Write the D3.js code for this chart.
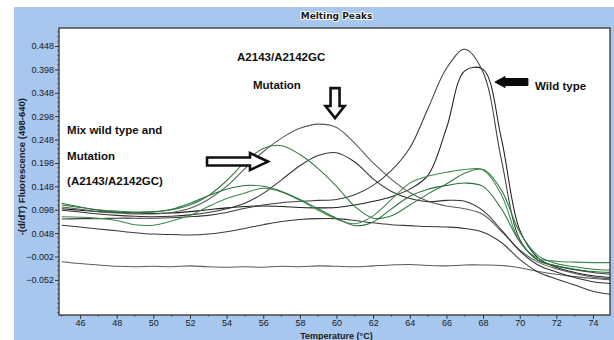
<!DOCTYPE html>
<html>
<head>
<meta charset="utf-8">
<script src="https://cdn.jsdelivr.net/npm/d3@7"></script>
<style>
  html, body { margin: 0; padding: 0; background: #ffffff; }
  svg { display: block; }
</style>
</head>
<body>
<svg id="chart" width="614" height="340"></svg>
<script>
// ---------- DATA ----------
const chartTitle = "Melting Peaks";
const xTitle = "Temperature (°C)";
const yTitle = "-(d/dT) Fluorescence (498-640)";

const temps = [45,46,47,48,49,50,51,52,53,54,55,56,57,58,59,60,61,62,63,64,65,66,67,68,69,70,71,72,73,74,75];

const wildTypeA = [0.078,0.079,0.079,0.080,0.080,0.080,0.081,0.083,0.086,0.092,0.101,0.108,0.113,0.116,0.118,0.120,0.130,0.150,0.182,0.230,0.315,0.400,0.441,0.392,0.205,0.035,-0.010,-0.022,-0.030,-0.036,-0.040];
const wildTypeB = [0.100,0.097,0.094,0.092,0.091,0.090,0.091,0.094,0.098,0.102,0.105,0.106,0.105,0.103,0.102,0.103,0.108,0.116,0.126,0.142,0.172,0.272,0.395,0.398,0.250,0.055,-0.005,-0.025,-0.036,-0.043,-0.047];
const mutationA = [0.104,0.099,0.094,0.091,0.089,0.089,0.092,0.101,0.120,0.148,0.186,0.222,0.251,0.272,0.281,0.274,0.240,0.198,0.163,0.135,0.116,0.106,0.100,0.088,0.052,0.012,-0.014,-0.028,-0.038,-0.046,-0.050];
const mutationB = [0.097,0.093,0.089,0.086,0.084,0.083,0.084,0.087,0.092,0.100,0.112,0.133,0.162,0.192,0.214,0.220,0.200,0.164,0.137,0.122,0.115,0.118,0.116,0.096,0.055,0.010,-0.020,-0.035,-0.047,-0.056,-0.060];
const mixA = [0.108,0.103,0.098,0.095,0.093,0.094,0.098,0.108,0.128,0.160,0.200,0.229,0.235,0.216,0.186,0.148,0.105,0.080,0.085,0.108,0.132,0.153,0.176,0.184,0.140,0.050,0.000,-0.017,-0.024,-0.029,-0.031];
const mixB = [0.112,0.104,0.097,0.093,0.092,0.093,0.099,0.112,0.128,0.142,0.150,0.148,0.137,0.120,0.100,0.080,0.064,0.072,0.100,0.127,0.142,0.150,0.155,0.148,0.100,0.030,-0.010,-0.022,-0.029,-0.034,-0.036];
const mixC = [0.083,0.082,0.080,0.075,0.066,0.065,0.074,0.086,0.105,0.122,0.134,0.144,0.136,0.118,0.097,0.078,0.068,0.085,0.120,0.155,0.170,0.178,0.184,0.183,0.130,0.030,-0.006,-0.012,-0.014,-0.015,-0.015];
const lowSample = [0.065,0.061,0.057,0.053,0.049,0.046,0.045,0.044,0.046,0.051,0.058,0.066,0.073,0.077,0.079,0.079,0.075,0.070,0.066,0.064,0.062,0.061,0.058,0.050,0.028,-0.008,-0.035,-0.050,-0.063,-0.076,-0.083];
const blank = [-0.013,-0.017,-0.020,-0.023,-0.024,-0.023,-0.024,-0.022,-0.024,-0.025,-0.024,-0.025,-0.023,-0.024,-0.022,-0.023,-0.024,-0.022,-0.020,-0.019,-0.021,-0.022,-0.020,-0.020,-0.021,-0.026,-0.034,-0.040,-0.045,-0.049,-0.052];

const seriesNames = ["blank","lowSample","wildTypeB","wildTypeA","mutationA","mutationB","mixC","mixB","mixA"];
const seriesValues = [blank, lowSample, wildTypeB, wildTypeA, mutationA, mutationB, mixC, mixB, mixA];
const seriesColors = ["#5c5c5c","#3a3a3a","#1e1e1e","#3c3c3c","#5a5a5a","#333333","#3d8a4a","#25703a","#2f7d3e"];

const xTicks = [46,48,50,52,54,56,58,60,62,64,66,68,70,72,74];
const yTicks = [0.448,0.398,0.348,0.298,0.248,0.198,0.148,0.098,0.048,-0.002,-0.052];

// annotations (anchored in data coordinates)
const labelTexts = [
  {t:"A2143/A2142GC", x:54.57, y:0.424},
  {t:"Mutation", x:55.44, y:0.364},
  {t:"Mix wild type and", x:45.29, y:0.268},
  {t:"Mutation", x:45.29, y:0.213},
  {t:"(A2143/A2142GC)", x:45.29, y:0.159},
  {t:"Wild type", x:70.84, y:0.362}
];

// ---------- LAYOUT ----------
const svg = d3.select("#chart");
const W = 614, H = 340;
const plot = {left: 59, top: 28, right: 610, bottom: 315};

svg.append("rect").attr("x", 14).attr("y", 7).attr("width", W - 14).attr("height", H - 7)
  .attr("fill", "#a8c7ef");

const x = d3.scaleLinear().domain([44.85, 74.93]).range([plot.left, plot.right]);
const y = d3.scaleLinear().domain([-0.127, 0.4865]).range([plot.bottom, plot.top]);

svg.append("rect").attr("x", plot.left).attr("y", plot.top)
  .attr("width", plot.right - plot.left).attr("height", plot.bottom - plot.top)
  .attr("fill", "#ffffff");

svg.append("defs").append("clipPath").attr("id", "clip")
  .append("rect").attr("x", plot.left).attr("y", plot.top)
  .attr("width", plot.right - plot.left).attr("height", plot.bottom - plot.top);

// title
svg.append("text").attr("x", (plot.left + plot.right) / 2 + 2).attr("y", 19)
  .attr("text-anchor", "middle")
  .attr("font-family", "DejaVu Sans, Verdana, sans-serif")
  .attr("font-size", 9).attr("font-weight", "bold")
  .attr("fill", "#1a1a1a").attr("stroke", "#ffffff").attr("stroke-width", 2)
  .attr("paint-order", "stroke").attr("stroke-linejoin", "round")
  .text(chartTitle);

// lines
const line = d3.line().x((d, i) => x(temps[i])).y(d => y(d)).curve(d3.curveCatmullRom.alpha(0.5));
const g = svg.append("g").attr("clip-path", "url(#clip)");
seriesValues.forEach((vals, k) => {
  g.append("path").datum(vals).attr("d", line)
    .attr("fill", "none").attr("stroke", seriesColors[k]).attr("stroke-width", 1.05)
    .attr("class", seriesNames[k]);
});

// axes
const fontTick = "Liberation Sans, Arial, sans-serif";
const yAxis = d3.axisLeft(y).tickValues(yTicks).tickFormat(d3.format(".3f")).tickSize(4).tickSizeOuter(0);
const ya = svg.append("g").attr("transform", `translate(${plot.left},0)`).call(yAxis);
ya.select(".domain").remove();
ya.selectAll("text").attr("font-family", fontTick).attr("font-size", 9).attr("fill", "#1a1a1a").attr("x", -5);
ya.selectAll("line").attr("stroke", "#333");

const xAxis = d3.axisBottom(x).tickValues(xTicks).tickFormat(d3.format("d")).tickSize(4).tickSizeOuter(0);
const xa = svg.append("g").attr("transform", `translate(0,${plot.bottom})`).call(xAxis);
xa.select(".domain").remove();
xa.selectAll("text").attr("font-family", fontTick).attr("font-size", 9).attr("fill", "#1a1a1a").attr("y", 4.5);
xa.selectAll("line").attr("stroke", "#333");

// minor ticks
const yMinor = d3.range(-0.122, 0.48, 0.01).filter(v => !yTicks.some(t => Math.abs(t - v) < 1e-6));
svg.append("g").selectAll("line").data(yMinor).join("line")
  .attr("x1", plot.left - 2).attr("x2", plot.left).attr("y1", d => y(d)).attr("y2", d => y(d))
  .attr("stroke", "#555").attr("stroke-width", 0.8);
const xMinor = [45,47,49,51,53,55,57,59,61,63,65,67,69,71,73];
svg.append("g").selectAll("line").data(xMinor).join("line")
  .attr("y1", plot.bottom).attr("y2", plot.bottom + 2).attr("x1", d => x(d)).attr("x2", d => x(d))
  .attr("stroke", "#555").attr("stroke-width", 0.8);

// frame
svg.append("rect").attr("x", plot.left).attr("y", plot.top)
  .attr("width", plot.right - plot.left).attr("height", plot.bottom - plot.top)
  .attr("fill", "none").attr("stroke", "#333").attr("stroke-width", 1.3);

// axis titles
svg.append("text").attr("x", (plot.left + plot.right) / 2 + 2).attr("y", 338.5)
  .attr("text-anchor", "middle").attr("font-family", fontTick)
  .attr("font-size", 9).attr("font-weight", "bold").attr("fill", "#1a1a1a").text(xTitle);
svg.append("text").attr("transform", `translate(25,${y(0.19)}) rotate(-90)`)
  .attr("text-anchor", "middle").attr("font-family", fontTick)
  .attr("font-size", 9.5).attr("font-weight", "bold").attr("fill", "#1a1a1a").text(yTitle);

// annotation texts
svg.append("g").selectAll("text").data(labelTexts).join("text")
  .attr("x", d => x(d.x)).attr("y", d => y(d.y)).attr("dominant-baseline", "central")
  .attr("font-family", "Liberation Sans, Arial, sans-serif").attr("font-size", 11.5)
  .attr("font-weight", "bold").attr("fill", "#111").text(d => d.t);

// arrows
// down arrow (outlined) above mutation peak
{
  const cx = x(59.92), top = y(0.358), tip = y(0.294);
  const p = d3.path();
  p.moveTo(cx - 4.5, top); p.lineTo(cx + 4.5, top); p.lineTo(cx + 4.5, tip - 12);
  p.lineTo(cx + 9.5, tip - 12); p.lineTo(cx, tip); p.lineTo(cx - 9.5, tip - 12);
  p.lineTo(cx - 4.5, tip - 12); p.closePath();
  svg.append("path").attr("d", p.toString()).attr("fill", "#fff").attr("stroke", "#111").attr("stroke-width", 2.6).attr("stroke-linejoin", "miter");
}
// right arrow (outlined) pointing to mix peak
{
  const tail = x(52.93), tip = x(56.26), cy = y(0.201);
  const p = d3.path();
  p.moveTo(tail, cy - 4); p.lineTo(tip - 18, cy - 4); p.lineTo(tip - 18, cy - 8.5);
  p.lineTo(tip, cy); p.lineTo(tip - 18, cy + 8.5); p.lineTo(tip - 18, cy + 4);
  p.lineTo(tail, cy + 4); p.closePath();
  svg.append("path").attr("d", p.toString()).attr("fill", "#fff").attr("stroke", "#111").attr("stroke-width", 2.6).attr("stroke-linejoin", "miter");
}
// left arrow (filled) pointing to wild type peak
{
  const tip = x(68.65), tail = x(70.45), cy = y(0.371);
  const p = d3.path();
  p.moveTo(tip, cy); p.lineTo(tip + 10, cy - 5.5); p.lineTo(tip + 10, cy - 3.5);
  p.lineTo(tail, cy - 3.5); p.lineTo(tail, cy + 3.5); p.lineTo(tip + 10, cy + 3.5);
  p.lineTo(tip + 10, cy + 5.5); p.closePath();
  svg.append("path").attr("d", p.toString()).attr("fill", "#0a0a0a").attr("stroke", "#0a0a0a").attr("stroke-width", 1);
}
</script>
</body>
</html>
